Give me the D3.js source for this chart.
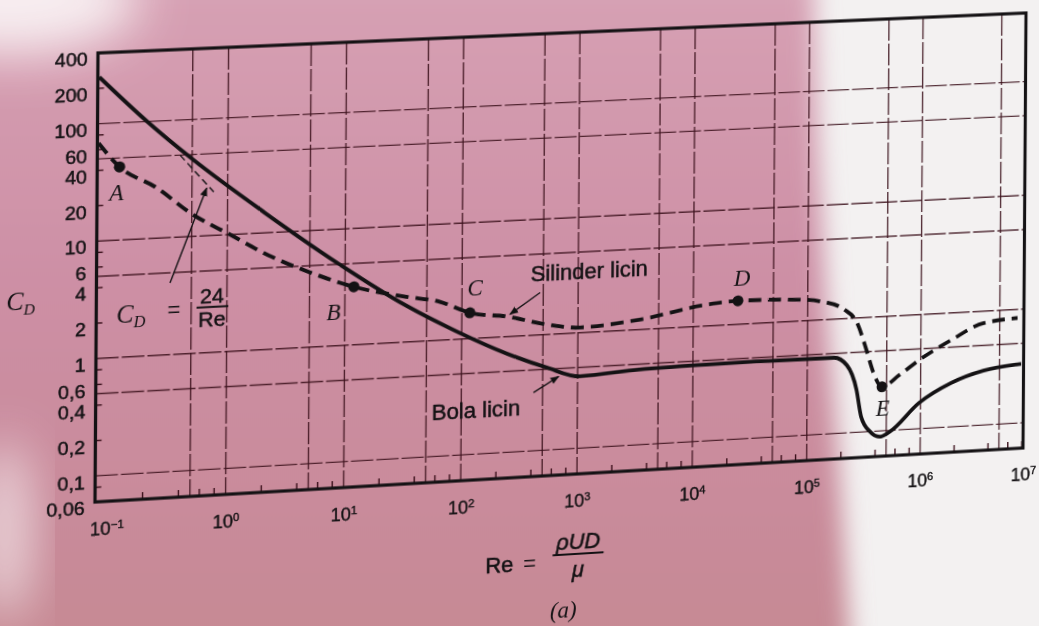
<!DOCTYPE html>
<html>
<head>
<meta charset="utf-8">
<script src="https://cdn.jsdelivr.net/npm/d3@7"></script>
<style>
html,body{margin:0;padding:0;width:1039px;height:626px;overflow:hidden;background:#f2eeee;}
#bg{position:absolute;left:0;top:0;}
#wrap{position:absolute;left:0;top:0;width:1100px;height:700px;transform-origin:0 0;}
#chart{display:block;overflow:visible;}
</style>
</head>
<body>
<svg id="bg" width="1039" height="626"></svg>
<div id="wrap"><svg id="chart" width="1100" height="700"></svg></div>
<script>
// ---------------- data ----------------
// Smooth sphere ("Bola licin"), solid line
const sphereRe = [0.0824, 0.206, 0.513, 2.06, 8.3, 33.4, 90, 244, 540, 1040, 3430, 13000, 35100, 172000, 223000, 272000, 300000, 359000, 438000, 535000, 970000, 1870000, 3600000, 7800000];
const sphereCd = [249, 101, 45, 14.9, 5.26, 2.05, 1.17, 0.713, 0.518, 0.42, 0.45, 0.462, 0.465, 0.46, 0.39, 0.235, 0.136, 0.10, 0.089, 0.097, 0.168, 0.243, 0.30, 0.33];
// Smooth cylinder ("Silinder licin"), dashed line
const cylRe = [0.082, 0.123, 0.246, 0.513, 1.07, 2.37, 5.25, 11.9, 33.4, 64, 117, 244, 540, 1040, 3430, 13000, 24500, 94600, 133000, 210000, 272000, 331000, 381000, 456000, 652000, 970000, 1870000, 3600000, 7200000];
const cylCd = [68, 42, 27.4, 15.3, 9.9, 6.2, 4.3, 3.15, 2.45, 2.15, 1.67, 1.49, 1.22, 1.11, 1.22, 1.53, 1.60, 1.52, 1.44, 1.20, 0.91, 0.52, 0.33, 0.243, 0.303, 0.40, 0.58, 0.785, 0.84];
// Thin dashed Stokes segment (C_D = 24/Re)
const stokesRe = [0.396, 0.764];
const stokesCd = [50, 23.5];
// Marked points
const pointNames = ["A", "B", "C", "D", "E"];
const pointRe = [0.123, 11.9, 117, 24500, 456000];
const pointCd = [42, 3.15, 1.67, 1.60, 0.243];
const pointLabelRe = [0.116, 8.0, 129, 26500, 465000];
const pointLabelCd = [25.8, 1.96, 2.74, 2.53, 0.16];
// Text annotations with arrows
const annotText = ["Silinder licin", "Bola licin"];
const annotRe = [1245, 134];
const annotCd = [3.41, 0.243];
const arrowFromRe = [470, 417, 0.331];
const arrowFromCd = [2.32, 0.319, 4.09];
const arrowToRe = [258, 686, 0.665];
const arrowToCd = [1.55, 0.428, 25.6];
const stokesLabelRe = 0.359;
const stokesLabelCd = 2.40;
// Axes
const yTickValues = [400, 200, 100, 60, 40, 20, 10, 6, 4, 2, 1, 0.6, 0.4, 0.2, 0.1, 0.06];
const xTickExponents = [-1, 0, 1, 2, 3, 4, 5, 6, 7];
const xGridValues = [0.5, 1, 5, 10, 50, 100, 500, 1e3, 5e3, 1e4, 5e4, 1e5, 5e5, 1e6, 5e6];
const yGridValues = [0.1, 0.5, 1, 5, 10, 50, 100];
const reDomain = [0.08, 8.2e6];
const cdDomain = [0.06, 400];

// ---------------- background (photo tint) ----------------
const bg = d3.select("#bg");
const bdefs = bg.append("defs");
const bf = bdefs.append("filter").attr("id", "soft").attr("x", "-30%").attr("y", "-30%").attr("width", "160%").attr("height", "160%");
bf.append("feGaussianBlur").attr("stdDeviation", 12);
const bf2 = bdefs.append("filter").attr("id", "soft2").attr("x", "-50%").attr("y", "-50%").attr("width", "200%").attr("height", "200%");
bf2.append("feGaussianBlur").attr("stdDeviation", 25);
const pg = bdefs.append("linearGradient").attr("id", "pink").attr("x1", 0).attr("y1", 0).attr("x2", 0).attr("y2", 1);
[[0, "#e2bfcb"], [0.1, "#d6a0b3"], [0.45, "#cd8fa5"], [0.8, "#c88a98"], [1, "#c4898f"]]
  .forEach(s => pg.append("stop").attr("offset", s[0]).attr("stop-color", s[1]));
bg.append("rect").attr("width", 1039).attr("height", 626).attr("fill", "#f3f1f1");
bg.append("path")
  .attr("d", "M-80,-80 L812,-80 L818,150 L826,300 L838,450 L855,720 L-80,720 Z")
  .attr("fill", "url(#pink)").attr("filter", "url(#soft)");
bg.append("ellipse").attr("cx", 10).attr("cy", 0).attr("rx", 130).attr("ry", 55)
  .attr("fill", "#fbf6f7").attr("opacity", 0.9).attr("filter", "url(#soft2)");
bg.append("ellipse").attr("cx", 5).attr("cy", 530).attr("rx", 25).attr("ry", 90)
  .attr("fill", "#f6eef0").attr("opacity", 0.8).attr("filter", "url(#soft2)");

// ---------------- chart (drawn flat, then put in perspective) ----------------
const F = {x: 96.5, y: 33, w: 928, h: 442};
const quad = [[98, 53], [1026, 13], [1023, 448], [95, 502]]; // TL, TR, BR, BL of the photographed frame

function squareToQuad(p) {
  const [x0, y0] = p[0], [x1, y1] = p[1], [x2, y2] = p[2], [x3, y3] = p[3];
  const dx1 = x1 - x2, dx2 = x3 - x2, dx3 = x0 - x1 + x2 - x3;
  const dy1 = y1 - y2, dy2 = y3 - y2, dy3 = y0 - y1 + y2 - y3;
  const den = dx1 * dy2 - dx2 * dy1;
  const g = (dx3 * dy2 - dx2 * dy3) / den, h = (dx1 * dy3 - dx3 * dy1) / den;
  return [[x1 - x0 + g * x1, x3 - x0 + h * x3, x0], [y1 - y0 + g * y1, y3 - y0 + h * y3, y0], [g, h, 1]];
}
const Q = squareToQuad(quad);
const M = Q.map(r => [r[0] / F.w, r[1] / F.h, r[2] - r[0] * F.x / F.w - r[1] * F.y / F.h]);
document.getElementById("wrap").style.transform =
  `matrix3d(${M[0][0]},${M[1][0]},0,${M[2][0]},${M[0][1]},${M[1][1]},0,${M[2][1]},0,0,1,0,${M[0][2]},${M[1][2]},0,${M[2][2]})`;

const svg = d3.select("#chart");
const defs = svg.append("defs");
defs.append("clipPath").attr("id", "clip").append("rect")
  .attr("x", F.x).attr("y", F.y).attr("width", F.w).attr("height", F.h);
defs.append("marker").attr("id", "arrow").attr("viewBox", "0 -5 10 10")
  .attr("refX", 9).attr("refY", 0).attr("markerWidth", 9).attr("markerHeight", 9)
  .attr("markerUnits", "userSpaceOnUse").attr("orient", "auto")
  .append("path").attr("d", "M0,-4L10,0L0,4Z").attr("fill", "#111");

const x = d3.scaleLog().domain(reDomain).range([F.x, F.x + F.w]);
const y = d3.scaleLog().domain(cdDomain).range([F.y + F.h, F.y]);

const SANS = "'Liberation Sans', Arial, Helvetica, sans-serif";
const SERIF = "'Liberation Serif', 'Times New Roman', serif";
const INK = "#141214";
const GRID = "#3a0f1a";

// grid
const grid = svg.append("g").attr("stroke", GRID).attr("stroke-width", 1.4)
  .attr("stroke-opacity", 0.85).attr("stroke-dasharray", "22,3");
grid.selectAll("line.gx").data(xGridValues).join("line").attr("class", "gx")
  .attr("x1", d => x(d)).attr("x2", d => x(d)).attr("y1", F.y).attr("y2", F.y + F.h);
grid.selectAll("line.gy").data(yGridValues).join("line").attr("class", "gy")
  .attr("y1", d => y(d)).attr("y2", d => y(d)).attr("x1", F.x).attr("x2", F.x + F.w);

// minor ticks
const firstDigit = v => Math.round(v / Math.pow(10, Math.floor(Math.log10(v) + 1e-9)));
const xMinor = x.ticks(80).filter(v => [2, 4, 6, 8].includes(firstDigit(v)));
svg.append("g").attr("stroke", GRID).attr("stroke-width", 1.4)
  .selectAll("line").data(xMinor).join("line")
  .attr("x1", d => x(d)).attr("x2", d => x(d)).attr("y1", F.y + F.h).attr("y2", F.y + F.h - 7);
const yMinor = y.ticks(40).filter(v => [2, 4, 6, 8].includes(firstDigit(v)));
svg.append("g").attr("stroke", GRID).attr("stroke-width", 1.4)
  .selectAll("line").data(yMinor).join("line")
  .attr("y1", d => y(d)).attr("y2", d => y(d)).attr("x1", F.x).attr("x2", F.x + 6);

// y axis labels
const yAxis = svg.append("g").attr("transform", `translate(${F.x},0)`)
  .call(d3.axisLeft(y).tickValues(yTickValues).tickSize(0).tickPadding(10)
    .tickFormat(d => String(d).replace(".", ",")));
yAxis.select(".domain").remove();
yAxis.attr("font-family", SANS).attr("font-size", 19);
yAxis.selectAll("text").attr("fill", INK).attr("stroke", INK).attr("stroke-width", 0.5).attr("dy", "0.62em");

// x axis labels (10^n)
const xAxis = svg.append("g").attr("transform", `translate(0,${F.y + F.h})`)
  .call(d3.axisBottom(x.copy().clamp(true)).tickValues(xTickExponents.map(e => Math.pow(10, e)))
    .tickSize(0).tickPadding(20).tickFormat(() => ""));
xAxis.select(".domain").remove();
xAxis.attr("font-family", SANS).attr("font-size", 18);
xAxis.selectAll("text").attr("fill", INK).attr("stroke", INK).attr("stroke-width", 0.4).each(function (d) {
  const e = Math.round(Math.log10(d));
  const t = d3.select(this);
  t.text(null);
  t.append("tspan").text("10");
  t.append("tspan").attr("dy", "-0.55em").attr("font-size", "0.62em").text(String(e).replace("-", "\u2212"));
});

// curves
const line = d3.line().x(d => x(d[0])).y(d => y(d[1])).curve(d3.curveMonotoneX);
const plot = svg.append("g").attr("clip-path", "url(#clip)");
plot.append("path").datum(d3.zip(stokesRe, stokesCd)).attr("d", d3.line().x(d => x(d[0])).y(d => y(d[1])))
  .attr("fill", "none").attr("stroke", INK).attr("stroke-width", 1.3).attr("stroke-dasharray", "7,4");
plot.append("path").datum(d3.zip(sphereRe, sphereCd)).attr("d", line)
  .attr("fill", "none").attr("stroke", INK).attr("stroke-width", 3.8).attr("stroke-linejoin", "round");
plot.append("path").datum(d3.zip(cylRe, cylCd)).attr("d", line)
  .attr("fill", "none").attr("stroke", INK).attr("stroke-width", 3.8).attr("stroke-dasharray", "13,7");

// frame
svg.append("rect").attr("x", F.x).attr("y", F.y).attr("width", F.w).attr("height", F.h)
  .attr("fill", "none").attr("stroke", INK).attr("stroke-width", 3.2);

// points and their letters
svg.append("g").selectAll("circle").data(pointNames).join("circle")
  .attr("cx", (d, i) => x(pointRe[i])).attr("cy", (d, i) => y(pointCd[i])).attr("r", 5.5).attr("fill", INK);
svg.append("g").attr("font-family", SERIF).attr("font-style", "italic").attr("font-size", 23)
  .attr("text-anchor", "middle").attr("fill", INK)
  .selectAll("text").data(pointNames).join("text")
  .attr("x", (d, i) => x(pointLabelRe[i])).attr("y", (d, i) => y(pointLabelCd[i])).attr("dy", "0.35em")
  .text(d => d);

// annotations
svg.append("g").attr("font-family", SANS).attr("font-size", 22).attr("text-anchor", "middle")
  .attr("fill", INK).attr("stroke", INK).attr("stroke-width", 0.5)
  .selectAll("text").data(annotText).join("text")
  .attr("x", (d, i) => x(annotRe[i])).attr("y", (d, i) => y(annotCd[i])).attr("dy", "0.36em")
  .text(d => d);
svg.append("g").attr("stroke", INK).attr("stroke-width", 1.4)
  .selectAll("line").data(arrowFromRe).join("line")
  .attr("x1", (d, i) => x(arrowFromRe[i])).attr("y1", (d, i) => y(arrowFromCd[i]))
  .attr("x2", (d, i) => x(arrowToRe[i])).attr("y2", (d, i) => y(arrowToCd[i]))
  .attr("marker-end", "url(#arrow)");

// C_D = 24/Re
const gs = svg.append("g").attr("transform", `translate(${x(stokesLabelRe)},${y(stokesLabelCd)})`).attr("fill", INK);
const cd1 = gs.append("text").attr("x", -56).attr("y", 10).attr("font-family", SERIF).attr("font-style", "italic").attr("font-size", 25).text("C");
cd1.append("tspan").attr("dy", 5).attr("font-size", 16).text("D");
gs.append("text").attr("x", 0).attr("y", 7).attr("text-anchor", "middle").attr("font-family", SANS).attr("font-size", 22).text("=");
gs.append("text").attr("x", 37).attr("y", -5).attr("text-anchor", "middle").attr("font-family", SANS).attr("font-size", 21).attr("stroke", INK).attr("stroke-width", 0.5).text("24");
gs.append("line").attr("x1", 22).attr("x2", 53).attr("y1", -1).attr("y2", -1).attr("stroke", INK).attr("stroke-width", 2);
gs.append("text").attr("x", 37).attr("y", 18).attr("text-anchor", "middle").attr("font-family", SANS).attr("font-size", 21).attr("stroke", INK).attr("stroke-width", 0.5).text("Re");

// y title C_D
const yt = svg.append("text").attr("x", F.x - 87).attr("y", F.y + 0.5625 * F.h)
  .attr("font-family", SERIF).attr("font-style", "italic").attr("font-size", 25).attr("fill", INK).text("C");
yt.append("tspan").attr("dy", 5).attr("font-size", 15).text("D");

// x title Re = rho U D / mu
const gx = svg.append("g").attr("transform", `translate(${F.x + 0.461 * F.w},${F.y + F.h})`).attr("fill", INK);
gx.append("text").attr("x", -16).attr("y", 94).attr("text-anchor", "end").attr("font-family", SANS).attr("font-size", 22).attr("stroke", INK).attr("stroke-width", 0.5).text("Re");
gx.append("text").attr("x", 0).attr("y", 94).attr("text-anchor", "middle").attr("font-family", SANS).attr("font-size", 22).text("=");
gx.append("line").attr("x1", 23).attr("x2", 74).attr("y1", 80).attr("y2", 80).attr("stroke", INK).attr("stroke-width", 2);
gx.append("text").attr("x", 48.5).attr("y", 75).attr("text-anchor", "middle").attr("font-family", SANS).attr("font-style", "italic").attr("font-size", 22).attr("stroke", INK).attr("stroke-width", 0.5).text("\u03C1UD");
gx.append("text").attr("x", 48.5).attr("y", 103).attr("text-anchor", "middle").attr("font-family", SANS).attr("font-style", "italic").attr("font-size", 22).attr("stroke", INK).attr("stroke-width", 0.5).text("\u03BC");
gx.append("text").attr("x", 34).attr("y", 143).attr("text-anchor", "middle").attr("font-family", SERIF).attr("font-style", "italic").attr("font-size", 23).text("(a)");
</script>
</body>
</html>
